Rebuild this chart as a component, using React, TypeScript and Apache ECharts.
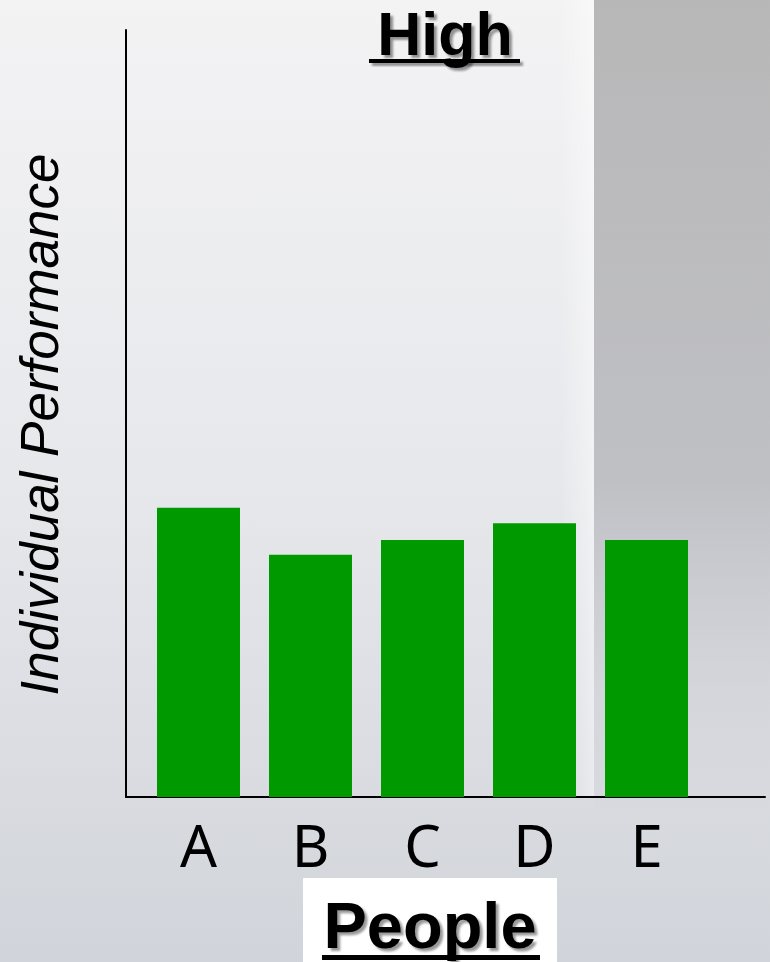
import React, { useEffect, useRef } from 'react';
import * as echarts from 'echarts';

const categories = ['A', 'B', 'C', 'D', 'E'];
const performance = [37.7, 31.6, 33.5, 35.7, 33.5];
const valueMax = 100;
const titleText = 'High';
const xTitle = 'People';
const yTitle = 'Individual Performance';

export default function App() {
  const ref = useRef<HTMLDivElement>(null);
  useEffect(() => {
    document.body.style.margin = '0';
    const chart = echarts.init(ref.current!, null, { renderer: 'svg' });
    const shadow = {
      textShadowColor: 'rgba(0,0,0,0.4)',
      textShadowBlur: 2,
      textShadowOffsetX: 3,
      textShadowOffsetY: 3,
    };
    chart.setOption({
      animation: false,
      title: {
        text: titleText,
        left: 445,
        textAlign: 'center',
        top: 3,
        padding: 0,
        textStyle: {
          fontFamily: '"Liberation Sans", Arial, sans-serif',
          fontWeight: 'bold',
          fontSize: 61,
          color: '#000',
          ...shadow,
        },
      },
      graphic: [
        {
          type: 'rect', z: -20, silent: true,
          shape: { x: 0, y: 0, width: 770, height: 962 },
          style: {
            fill: new echarts.graphic.LinearGradient(0, 0, 0, 1, [
              { offset: 0, color: '#f3f3f4' },
              { offset: 0.5, color: '#e7e8ec' },
              { offset: 1, color: '#d1d4da' },
            ]),
          },
        },
        {
          type: 'rect', z: -19, silent: true,
          shape: { x: 594, y: 0, width: 176, height: 962 },
          style: {
            fill: new echarts.graphic.LinearGradient(0, 0, 0, 1, [
              { offset: 0, color: 'rgba(110,110,110,0.45)' },
              { offset: 0.5, color: 'rgba(120,120,125,0.36)' },
              { offset: 0.72, color: 'rgba(130,130,140,0.1)' },
              { offset: 0.85, color: 'rgba(130,130,140,0)' },
            ]),
          },
        },
        {
          type: 'rect', z: -18, silent: true,
          shape: { x: 560, y: 0, width: 34, height: 797 },
          style: {
            fill: new echarts.graphic.LinearGradient(0, 0, 1, 0, [
              { offset: 0, color: 'rgba(255,255,255,0)' },
              { offset: 1, color: 'rgba(255,255,255,0.45)' },
            ]),
          },
        },
        {
          type: 'rect', z: 50, silent: true,
          shape: { x: 369, y: 59, width: 151, height: 4 },
          style: { fill: '#000', shadowColor: 'rgba(0,0,0,0.4)', shadowBlur: 2, shadowOffsetX: 3, shadowOffsetY: 3 },
        },
        {
          type: 'rect', z: 50, silent: true,
          shape: { x: 303, y: 878, width: 254, height: 84 },
          style: { fill: '#ffffff' },
        },
        {
          type: 'text', z: 51, silent: true,
          x: 430, y: 925,
          style: {
            text: xTitle,
            align: 'center',
            verticalAlign: 'middle',
            font: 'bold 65px "Liberation Sans", Arial, sans-serif',
            fill: '#000',
            textShadowColor: 'rgba(0,0,0,0.4)',
            textShadowBlur: 2,
            textShadowOffsetX: 3,
            textShadowOffsetY: 3,
          },
        },
        {
          type: 'rect', z: 51, silent: true,
          shape: { x: 322, y: 955, width: 218, height: 5 },
          style: { fill: '#000' },
        },
      ],
      grid: [
        { left: 142.5, top: 30, width: 560, height: 767, containLabel: false },
        { left: 126, top: 30, width: 639, height: 767, containLabel: false },
      ],
      xAxis: [
        {
          gridIndex: 0,
          type: 'category',
          data: categories,
          axisLine: { show: false },
          axisTick: { show: false },
          axisLabel: {
            fontSize: 58,
            fontFamily: '"Noto Sans", sans-serif',
            color: '#000',
            margin: 18,
          },
        },
        {
          gridIndex: 1,
          type: 'value',
          min: 0,
          max: 1,
          axisLine: { show: true, lineStyle: { color: '#000', width: 2 } },
          axisTick: { show: false },
          axisLabel: { show: false },
          splitLine: { show: false },
        },
      ],
      yAxis: [
        {
          gridIndex: 0,
          type: 'value',
          min: 0,
          max: valueMax,
          show: false,
          splitLine: { show: false },
        },
        {
          gridIndex: 1,
          type: 'value',
          min: 0,
          max: 1,
          axisLine: { show: true, lineStyle: { color: '#000', width: 2 } },
          axisTick: { show: false },
          axisLabel: { show: false },
          splitLine: { show: false },
          name: yTitle,
          nameLocation: 'middle',
          nameRotate: 90,
          nameGap: 60,
          nameTextStyle: {
            fontSize: 53,
            fontStyle: 'italic',
            fontFamily: '"Liberation Sans", Arial, sans-serif',
            color: '#000',
            padding: [0, 22, 0, 0],
          },
        },
      ],
      series: [
        {
          type: 'bar',
          xAxisIndex: 0,
          yAxisIndex: 0,
          data: performance,
          barWidth: 83,
          itemStyle: { color: '#009900' },
        },
      ],
    });
    return () => chart.dispose();
  }, []);
  return <div ref={ref} style={{ width: 770, height: 962 }} />;
}
